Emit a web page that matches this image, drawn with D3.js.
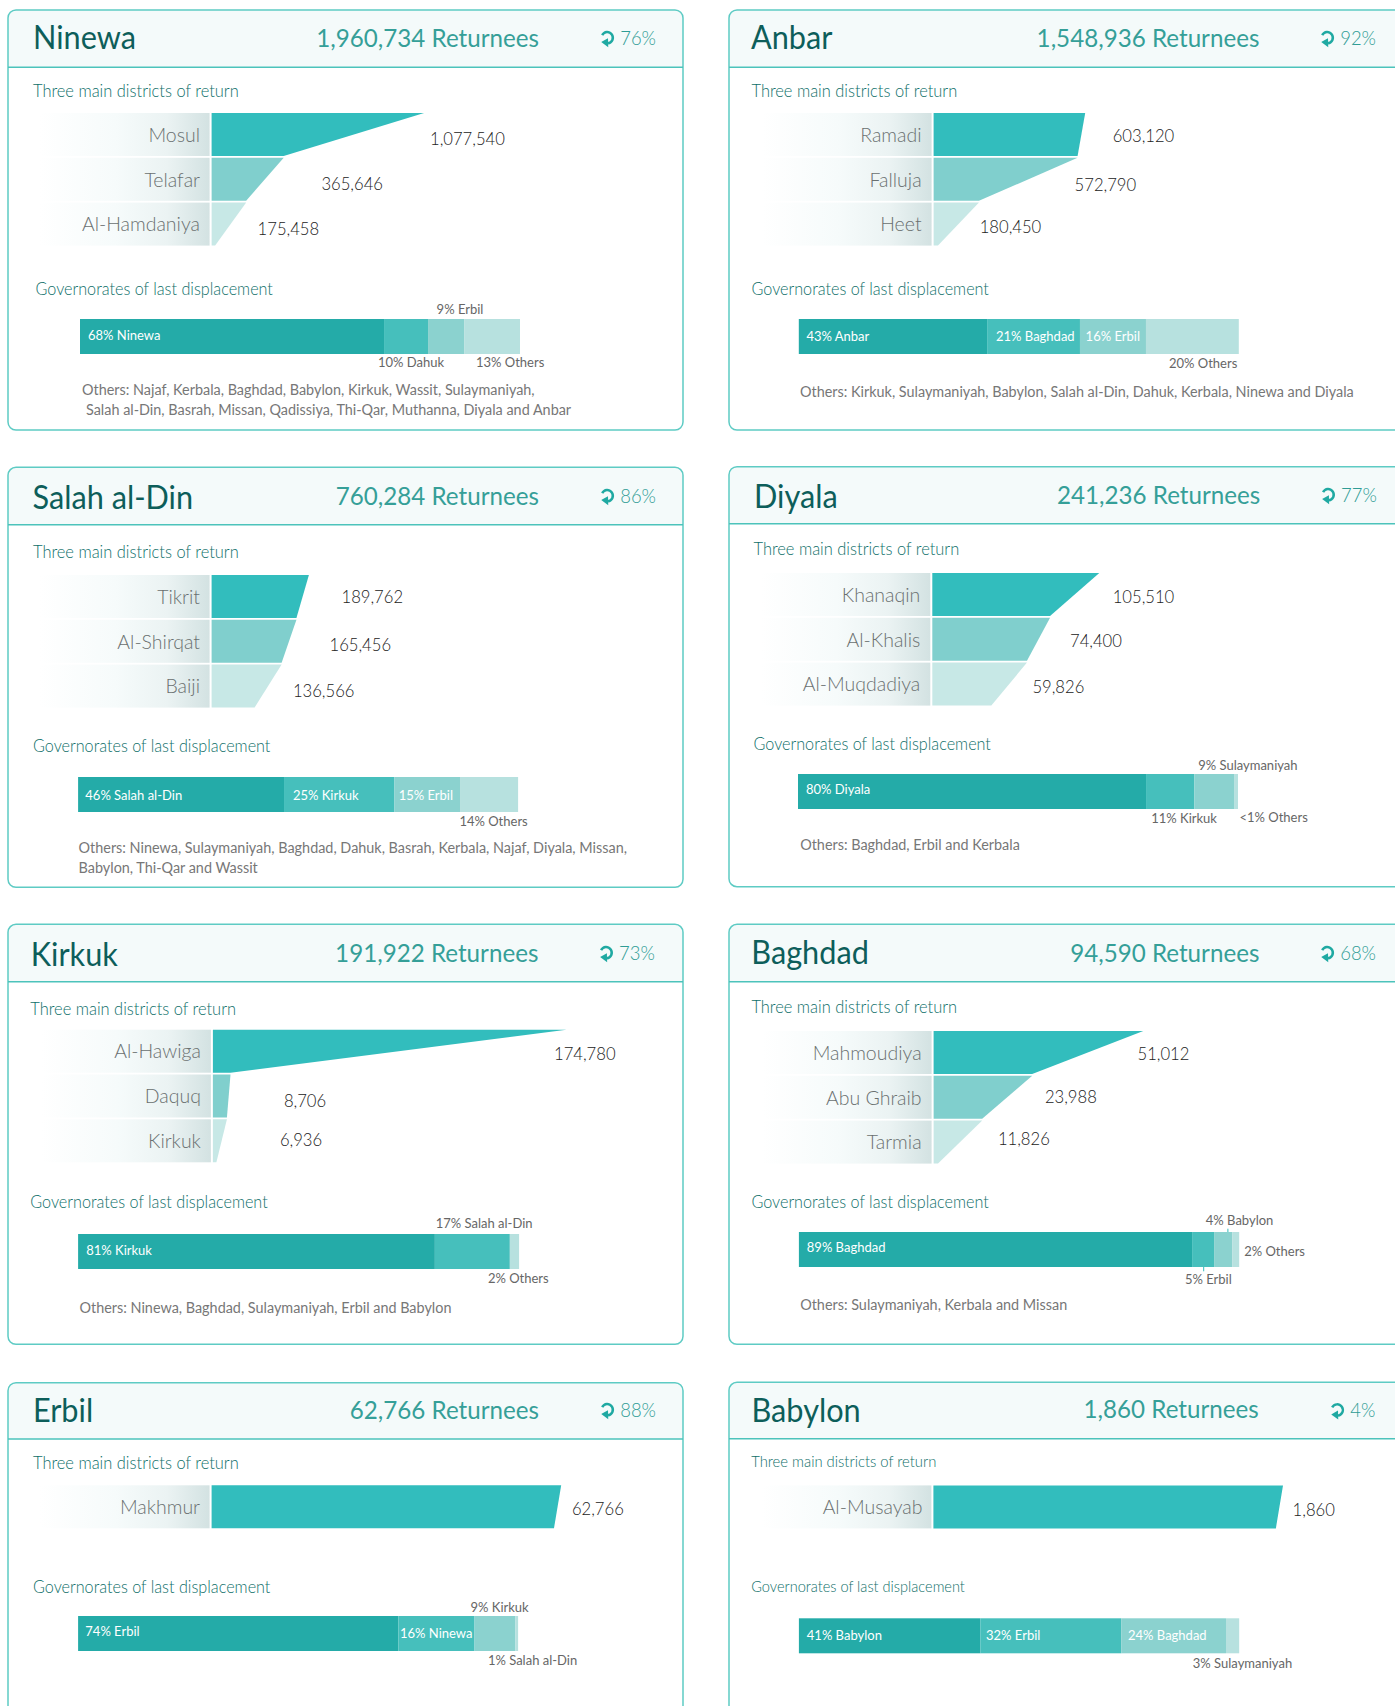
<!DOCTYPE html>
<html>
<head>
<meta charset="utf-8">
<script src="https://cdnjs.cloudflare.com/ajax/libs/d3/7.8.5/d3.min.js"></script>
<style>
  html, body { margin: 0; padding: 0; background: #fff; overflow: hidden; }
  svg { display: block; }
  text { font-family: Lato, "Open Sans", sans-serif; }
</style>
</head>
<body>
<div id="chart"></div>
<script>
// ---- data ----
const governorates = ["Ninewa", "Anbar", "Salah al-Din", "Diyala", "Kirkuk", "Baghdad", "Erbil", "Babylon"];
const returnees = [1960734, 1548936, 760284, 241236, 191922, 94590, 62766, 1860];
const returnRates = [76, 92, 86, 77, 73, 68, 88, 4];

const districtNames = [
  ["Mosul", "Telafar", "Al-Hamdaniya"],
  ["Ramadi", "Falluja", "Heet"],
  ["Tikrit", "Al-Shirqat", "Baiji"],
  ["Khanaqin", "Al-Khalis", "Al-Muqdadiya"],
  ["Al-Hawiga", "Daquq", "Kirkuk"],
  ["Mahmoudiya", "Abu Ghraib", "Tarmia"],
  ["Makhmur"],
  ["Al-Musayab"]
];
const districtValues = [
  [1077540, 365646, 175458],
  [603120, 572790, 180450],
  [189762, 165456, 136566],
  [105510, 74400, 59826],
  [174780, 8706, 6936],
  [51012, 23988, 11826],
  [62766],
  [1860]
];
// where the last funnel row narrows to (the next district down, not named)
const districtTail = [18000, 17500, 83900, 37300, 1730, 1070, 61470, 1822];

const displacementLabels = [
  ["68% Ninewa", "10% Dahuk", "9% Erbil", "13% Others"],
  ["43% Anbar", "21% Baghdad", "16% Erbil", "20% Others"],
  ["46% Salah al-Din", "25% Kirkuk", "15% Erbil", "14% Others"],
  ["80% Diyala", "11% Kirkuk", "9% Sulaymaniyah", "<1% Others"],
  ["81% Kirkuk", "17% Salah al-Din", "2% Others"],
  ["89% Baghdad", "5% Erbil", "4% Babylon", "2% Others"],
  ["74% Erbil", "16% Ninewa", "9% Kirkuk", "1% Salah al-Din"],
  ["41% Babylon", "32% Erbil", "24% Baghdad", "3% Sulaymaniyah"]
];
const displacementShares = [
  [69.1, 10, 8.2, 12.7],
  [42.8, 21.1, 15, 21.1],
  [46.8, 25.1, 14.9, 13.2],
  [79.1, 11, 9, 0.9],
  [80.9, 17, 2.1],
  [89.3, 5, 4.1, 1.6],
  [72.8, 17.3, 9.3, 0.6],
  [41.2, 32, 23.8, 3]
];
const othersNotes = [
  ["Others: Najaf, Kerbala, Baghdad, Babylon, Kirkuk, Wassit, Sulaymaniyah,", "Salah al-Din, Basrah, Missan, Qadissiya, Thi-Qar, Muthanna, Diyala and Anbar"],
  ["Others: Kirkuk, Sulaymaniyah, Babylon, Salah al-Din, Dahuk, Kerbala, Ninewa and Diyala"],
  ["Others: Ninewa, Sulaymaniyah, Baghdad, Dahuk, Basrah, Kerbala, Najaf, Diyala, Missan,", "Babylon, Thi-Qar and Wassit"],
  ["Others: Baghdad, Erbil and Kerbala"],
  ["Others: Ninewa, Baghdad, Sulaymaniyah, Erbil and Babylon"],
  ["Others: Sulaymaniyah, Kerbala and Missan"],
  [],
  []
];

// ---- layout, one entry per card ----
const cardBox = [[8,10,420,67.3],[729,10,420,67.3],[8,467.3,420,524.7],[729,466.7,420,523.7],[8,924.3,420,981.7],[729,924.3,420,981.7],[8,1382.7,420,1439],[729,1382.3,420,1438.7]];
// title x/y, returnees right/y, rate right/y
const headerPos = [
  [33,49,539,46.7,656,44.7],[751,49,1259.4,46.7,1376,44.7],
  [32.5,509,539,505,656,502.7],[754,507.7,1260.3,504,1376.9,501.7],
  [30.7,965.7,538.4,961.7,654.9,959.7],[751.3,963.7,1259.4,961.7,1376,959.7],
  [32.9,1422.3,539,1419,656,1416.7],[751.5,1422.3,1258.8,1418.3,1375.3,1417]
];
// section 1 x/y, section 2 x/y, scale of the section font
const sectionPos = [
  [33,97,35.5,295,1],[751.5,97,751.5,295,1],
  [33,558,33,751.7,1],[753.5,555,753.5,750,1],
  [30.3,1015,30.3,1208.3,1],[751.4,1013,751.4,1208.3,1],
  [33,1469.3,33,1593.3,1],[751.2,1467,751.2,1591.7,0.9]
];
// funnel left, top, width of the largest value, right edge of the names
const funnelPos = [
  [211.6,113,212.5,200],[933.6,113,151.6,921.6],
  [211.6,575,97.3,200],[932.3,573,167,920.3],
  [212.9,1029.7,353.5,200.9],[933.6,1031,209.7,921.6],
  [211.6,1485.3,349.6,200],[933.4,1485.4,349.6,922.5]
];
const valuePos = [
  [[430,145],[321.4,190],[257.6,235.3]],
  [[1112.7,142.3],[1074.6,191.3],[979.7,233.3]],
  [[341.5,603.3],[329.5,650.7],[292.9,696.7]],
  [[1112.7,602.7],[1070,646.7],[1032.4,692.7]],
  [[554,1060],[283.9,1106.7],[279.9,1146]],
  [[1137.5,1060],[1044.9,1103.3],[997.9,1145]],
  [[571.9,1515]],
  [[1292.6,1515.6]]
];
// stacked bar left, top, width
const stackPos = [[80,319,440],[798.8,319,440],[78.1,777,440],[798,774,440],[78.1,1234,441],[798.9,1232,440.3],[78.1,1616,440],[798.9,1618.3,440.3]];
// label x, y, white (inside the bar) or not
const stackLabelPos = [
  [[88,340,1],[378,367.3,0],[436.6,314.3,0],[476,367.3,0]],
  [[806.4,341.3,1],[996,341.3,1],[1085.6,341.3,1],[1169,368,0]],
  [[85.3,800,1],[292.9,800,1],[398.7,800,1],[459.4,826,0]],
  [[806,794,1],[1151.2,823,0],[1198.2,770,0],[1239.5,822,0]],
  [[86.2,1255,1],[435.7,1228.3,0],[487.9,1283,0]],
  [[806.8,1252,1],[1184.9,1284,0],[1205.8,1225.3,0],[1244.2,1256.2,0]],
  [[85.3,1635.7,1],[400,1637.7,1],[470.5,1611.7,0],[487.9,1665,0]],
  [[806.8,1640.4,1],[986,1640.4,1],[1128,1640.4,1],[1192.8,1668.3,0]]
];
const notePos = [
  [[82,395],[86,415]],[[800,397]],[[78.6,853.3],[78.6,873.3]],[[800.2,850]],
  [[79.5,1313.3]],[[800.2,1310.2]],[],[]
];
// small tick lines on the Baghdad bar: x, y1, y2
const stackTicks = [[5,1227.9,1228.7,1232],[5,1203.7,1267,1271.3]];

const funnelColors = ["#32bdbd", "#80cfcd", "#c7e8e6"];
const stackColors = ["#24aba8", "#46bfbc", "#8bd2cf", "#b7e1df"];
const stackColorsShort = ["#24aba8", "#46bfbc", "#b7e1df"];
const rowHeight = 43, rowStep = 44.8, stackHeight = 35, cardWidth = 675;

const numFormat = d3.format(",");
const svg = d3.select("#chart").append("svg").attr("width", 1395).attr("height", 1706);

const defs = svg.append("defs");
const grad = defs.append("linearGradient").attr("id", "nameFade");
grad.append("stop").attr("offset", "0%").attr("stop-color", "#ffffff");
grad.append("stop").attr("offset", "45%").attr("stop-color", "#f6fbfb");
grad.append("stop").attr("offset", "75%").attr("stop-color", "#ebf3f3");
grad.append("stop").attr("offset", "100%").attr("stop-color", "#d3e2e2");

// the original face is narrower than Lato, so squeeze each text a bit
function squeeze(sel, factor) {
  const n = sel.node();
  sel.attr("textLength", n.getComputedTextLength() * factor).attr("lengthAdjust", "spacingAndGlyphs");
  return sel;
}

governorates.forEach((name, c) => {
  const [bx, by, bh, lineY] = cardBox[c];
  const g = svg.append("g");
  const r = 8;

  // header band with rounded top corners
  g.append("path")
    .attr("d", `M${bx},${lineY}V${by + r}Q${bx},${by} ${bx + r},${by}H${bx + cardWidth - r}Q${bx + cardWidth},${by} ${bx + cardWidth},${by + r}V${lineY}Z`)
    .attr("fill", "#f4fafa");
  g.append("rect")
    .attr("x", bx).attr("y", by).attr("width", cardWidth).attr("height", bh).attr("rx", r)
    .attr("fill", "none").attr("stroke", "#5ecbc4").attr("stroke-width", 1.5);
  g.append("line")
    .attr("x1", bx).attr("x2", bx + cardWidth).attr("y1", lineY).attr("y2", lineY)
    .attr("stroke", "#4cc3bb").attr("stroke-width", 1.5);

  const [tx, ty, rx, ry, px, py] = headerPos[c];
  squeeze(g.append("text").attr("x", tx).attr("y", ty).text(name)
    .attr("font-size", 33).attr("fill", "#0d5e5a"), 0.93);
  squeeze(g.append("text").attr("x", rx).attr("y", ry).attr("text-anchor", "end")
    .text(`${numFormat(returnees[c])} Returnees`)
    .attr("font-size", 25).attr("fill", "#359f98"), 0.967);
  const rate = squeeze(g.append("text").attr("x", px).attr("y", py).attr("text-anchor", "end")
    .text(`${returnRates[c]}%`)
    .attr("font-size", 20.5).attr("font-weight", 300).attr("fill", "#2f9c95"), 0.9);

  // return arrow in front of the rate
  const left = px - rate.node().getComputedTextLength();
  const icon = g.append("g").attr("transform", `translate(${left - 13},${py - 7}) scale(1.3)`).attr("fill", "#1fa9a2");
  icon.append("path").attr("d", d3.arc()({ innerRadius: 3.4, outerRadius: 5.3, startAngle: -1.1, endAngle: 3.0 }));
  icon.append("path").attr("d", "M-4.6,3.4L0.6,0.4L0.8,7.4Z");

  const [s1x, s1y, s2x, s2y, sScale] = sectionPos[c];
  squeeze(g.append("text").attr("x", s1x).attr("y", s1y).text("Three main districts of return")
    .attr("font-size", 17.5 * sScale).attr("font-weight", 300).attr("fill", "#0f6f6a"), 0.94);
  squeeze(g.append("text").attr("x", s2x).attr("y", s2y).text("Governorates of last displacement")
    .attr("font-size", 17.5 * sScale).attr("font-weight", 300).attr("fill", "#0f6f6a"), 0.925);

  // funnel
  const [fx, fy, fw, nameRight] = funnelPos[c];
  const values = districtValues[c];
  const x = d3.scaleLinear().domain([0, values[0]]).range([fx, fx + fw]);
  const funnelLine = d3.line();
  values.forEach((v, i) => {
    const top = fy + i * rowStep;
    const next = i + 1 < values.length ? values[i + 1] : districtTail[c];
    g.append("rect")
      .attr("x", fx - 172).attr("y", top).attr("width", 170).attr("height", rowHeight)
      .attr("fill", "url(#nameFade)");
    g.append("path")
      .attr("d", funnelLine([[x(0), top], [x(v), top], [x(next), top + rowHeight], [x(0), top + rowHeight]]) + "Z")
      .attr("fill", funnelColors[i]);
    squeeze(g.append("text").attr("x", nameRight).attr("y", top + 28.7).attr("text-anchor", "end")
      .text(districtNames[c][i])
      .attr("font-size", 20).attr("font-weight", 300).attr("fill", "#6a7070"), 0.975);
    squeeze(g.append("text").attr("x", valuePos[c][i][0]).attr("y", valuePos[c][i][1])
      .text(numFormat(v))
      .attr("font-size", 18).attr("font-weight", 300).attr("fill", "#222"), 0.925);
  });

  // stacked bar
  const [sx, sy, sw] = stackPos[c];
  const shares = displacementShares[c];
  const total = d3.sum(shares);
  const xs = d3.scaleLinear().domain([0, total]).range([sx, sx + sw]);
  const colors = shares.length === 3 ? stackColorsShort : stackColors;
  let cum = 0;
  shares.forEach((v, i) => {
    g.append("rect").attr("x", xs(cum)).attr("y", sy)
      .attr("width", xs(cum + v) - xs(cum)).attr("height", stackHeight)
      .attr("fill", colors[i]);
    cum += v;
  });
  displacementLabels[c].forEach((t, i) => {
    const [lx, ly, inside] = stackLabelPos[c][i];
    g.append("text").attr("x", lx).attr("y", ly).text(t)
      .attr("font-size", 13).attr("fill", inside ? "#fff" : "#666");
  });
  stackTicks.filter(d => d[0] === c).forEach(d => {
    g.append("line").attr("x1", d[1]).attr("x2", d[1]).attr("y1", d[2]).attr("y2", d[3])
      .attr("stroke", "#32bdbd").attr("stroke-width", 1);
  });

  othersNotes[c].forEach((t, i) => {
    squeeze(g.append("text").attr("x", notePos[c][i][0]).attr("y", notePos[c][i][1]).text(t)
      .attr("font-size", 14.5).attr("fill", "#777"), 0.993);
  });
});
</script>
</body>
</html>
